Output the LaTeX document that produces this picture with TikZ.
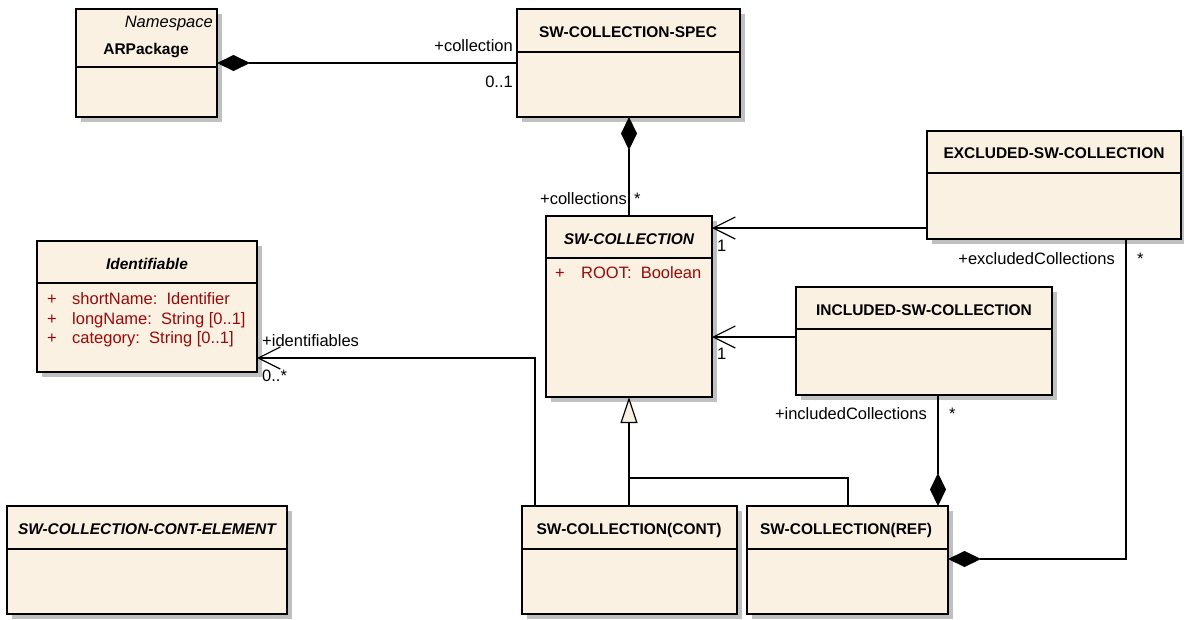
\documentclass[tikz,border=0pt]{standalone}
\usepackage{fontspec}
\setmainfont{Liberation Sans}
\usetikzlibrary{arrows.meta,calc}
\definecolor{classfill}{RGB}{251,241,227}
\definecolor{shadowgray}{RGB}{192,192,192}
\definecolor{attrred}{RGB}{150,10,10}
\tikzset{
  classbox/.style={draw, line width=1.3pt, fill=classfill, inner sep=0pt, outer sep=0pt, anchor=north west},
  ctitle/.style={font=\fontsize{15.5}{17}\selectfont\bfseries, inner sep=0pt, text height=11pt, text depth=3pt},
  ctitleit/.style={ctitle, font=\fontsize{15.5}{17}\selectfont\bfseries\itshape},
  lbl/.style={font=\fontsize{16.5}{18}\selectfont, inner sep=0pt, text height=11pt, text depth=3pt},
  attr/.style={lbl, text=attrred, anchor=west},
  conn/.style={line width=1.2pt},
  comp/.style={conn, {Diamond[length=33pt,width=16pt]}-},
  assoc/.style={conn, -{Straight Barb[length=22pt,width=22pt]}},
  gen/.style={conn, -{Triangle[open,length=26pt,width=17pt,fill=classfill]}},
}
\begin{document}
\begin{tikzpicture}[x=1pt,y=-1pt]
  \useasboundingbox (0,0) rectangle (1184,619);
  % class box: name, left, top, width, height, header height
  \def\umlclass#1#2#3#4#5#6{%
    \fill[shadowgray] (#2+5,#3+5) rectangle ++(#4,#5);
    \node[classbox, minimum width=#4pt, minimum height=#5pt] (#1) at (#2,#3) {};
    \draw[line width=1.3pt] (#2,#3+#6) -- ++(#4,0);
  }
  \umlclass{arpkg}{76}{9}{141}{108}{58}
  \umlclass{spec}{517}{9}{223}{108}{43}
  \umlclass{swcoll}{546}{216}{166}{181}{42}
  \umlclass{excl}{927}{131}{254}{108}{42}
  \umlclass{incl}{796}{287}{256}{108}{42}
  \umlclass{ident}{37}{241}{220}{131}{42}
  \umlclass{contelem}{7}{506}{280}{108}{43}
  \umlclass{cont}{522}{506}{215}{108}{43}
  \umlclass{ref}{747}{506}{201}{108}{43}

  % titles
  \node[lbl, font=\fontsize{16.5}{18}\selectfont\itshape, anchor=east] (arpkg-ns) at (213,23) {Namespace};
  \node[ctitle] (arpkg-t) at (146,50) {ARPackage};
  \node[ctitle] (spec-t) at (628,33) {SW-COLLECTION-SPEC};
  \node[ctitleit] (swcoll-t) at (629,240) {SW-COLLECTION};
  \node[ctitle] (excl-t) at (1054,154) {EXCLUDED-SW-COLLECTION};
  \node[ctitle] (incl-t) at (924,311) {INCLUDED-SW-COLLECTION};
  \node[ctitleit] (ident-t) at (147,265) {Identifiable};
  \node[ctitleit] (contelem-t) at (147,530) {SW-COLLECTION-CONT-ELEMENT};
  \node[ctitle] (cont-t) at (629,530) {SW-COLLECTION(CONT)};
  \node[ctitle] (ref-t) at (846,530) {SW-COLLECTION(REF)};

  % attributes
  \node[attr] (swcoll-p) at (555,274) {+};
  \node[attr] (swcoll-a) at (581,274) {ROOT:\ \ Boolean};
  \node[attr] (ident-p1) at (47,300) {+};
  \node[attr] (ident-a1) at (72,300) {shortName:\ \ Identifier};
  \node[attr] (ident-p2) at (47,320) {+};
  \node[attr] (ident-a2) at (72,320) {longName:\ \ String [0..1]};
  \node[attr] (ident-p3) at (47,339) {+};
  \node[attr] (ident-a3) at (72,339) {category:\ \ String [0..1]};

  % ARPackage <>-- SW-COLLECTION-SPEC
  \draw[comp] (arpkg.east) -- (spec.west);
  \node[lbl, anchor=east] (coll-r) at (513,47) {+collection};
  \node[lbl, anchor=east] (coll-m) at (513,83) {0..1};

  % SW-COLLECTION-SPEC <>-- SW-COLLECTION
  \draw[comp] (spec.south -| swcoll.north) -- (swcoll.north);
  \node[lbl, anchor=east] (colls-r) at (627,200) {+collections};
  \node[lbl, anchor=west] (colls-m) at (634,200) {*};

  % excluded / included -> SW-COLLECTION
  \draw[assoc] (excl.west |- 0,228) -- (swcoll.east |- 0,228);
  \node[lbl, anchor=west] (excl-m) at (717,247) {1};
  \draw[assoc] (incl.west |- 0,337) -- (swcoll.east |- 0,337);
  \node[lbl, anchor=west] (incl-m) at (717,355) {1};

  % SW-COLLECTION(CONT) -> Identifiable
  \draw[assoc] (cont.north -| 535,0) |- (ident.east |- 0,358);
  \node[lbl, anchor=west] (idf-r) at (262,342) {+identifiables};
  \node[lbl, anchor=west] (idf-m) at (262,377) {0..*};

  % generalization
  \draw[gen] (cont.north -| swcoll.south) -- (swcoll.south);
  \draw[conn] (ref.north -| 848,0) |- (swcoll.south |- 0,478);

  % SW-COLLECTION(REF) <>-- included / excluded
  \draw[comp] (ref.north -| 938,0) -- (incl.south -| 938,0);
  \node[lbl, anchor=east] (inc-r) at (927,415) {+includedCollections};
  \node[lbl, anchor=west] (inc-m) at (949,415) {*};
  \draw[comp] (ref.east |- 0,559) -| (excl.south -| 1126,0);
  \node[lbl, anchor=east] (exc-r) at (1115,260) {+excludedCollections};
  \node[lbl, anchor=west] (exc-m) at (1137,260) {*};
\end{tikzpicture}
\end{document}
